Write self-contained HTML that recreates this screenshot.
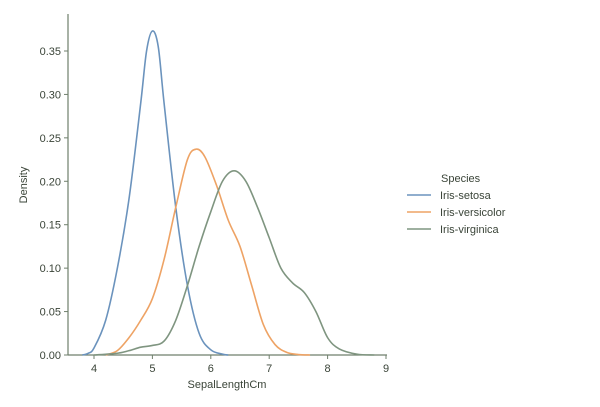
<!DOCTYPE html>
<html><head><meta charset="utf-8"><style>
body{margin:0;background:#fff;}
svg{display:block;font-family:"Liberation Sans",sans-serif;}
text{fill:#3a4438;font-size:11px;}
</style></head><body>
<svg id="chart" width="600" height="407"></svg>
<script>
const setosaX=[3.8,3.9,4.0,4.2,4.4,4.6,4.8,4.9,5.0,5.1,5.2,5.4,5.6,5.8,6.0,6.2,6.3];
const setosaY=[0,0.002,0.008,0.04,0.1,0.18,0.29,0.35,0.373,0.355,0.29,0.17,0.08,0.025,0.006,0.001,0];
const versiX=[4.2,4.4,4.6,4.8,5.0,5.2,5.4,5.6,5.75,5.9,6.1,6.3,6.5,6.7,6.9,7.1,7.3,7.5,7.7];
const versiY=[0,0.005,0.02,0.04,0.065,0.11,0.17,0.225,0.237,0.228,0.195,0.155,0.125,0.08,0.035,0.012,0.003,0.0005,0];
const virgX=[4.0,4.4,4.6,4.8,5.0,5.2,5.4,5.6,5.8,6.0,6.2,6.4,6.6,6.8,7.0,7.2,7.4,7.6,7.8,8.0,8.2,8.5,8.8];
const virgY=[0,0.002,0.005,0.009,0.011,0.016,0.04,0.08,0.125,0.165,0.2,0.212,0.2,0.17,0.135,0.1,0.083,0.072,0.05,0.02,0.007,0.001,0];
const xTicks=[4,5,6,7,8,9];
const yTicks=[0,0.05,0.10,0.15,0.20,0.25,0.30,0.35];
const seriesNames=["Iris-setosa","Iris-versicolor","Iris-virginica"];
const colors=["#6b93bd","#eea365","#7f9580"];

const NS="http://www.w3.org/2000/svg";
const svg=document.getElementById('chart');
const sx=v=>94+(v-4)*58.4;
const sy=v=>355-v*868.6;
function el(t,a,p){const e=document.createElementNS(NS,t);for(const k in a)e.setAttribute(k,a[k]);(p||svg).appendChild(e);return e;}

const ax=el('g',{});


const yl=el('line',{x1:68,y1:14,x2:68,y2:355,stroke:'#6f7f6c','stroke-width':1.2},ax);


const xl=el('line',{x1:68,y1:355,x2:387,y2:355,stroke:'#6f7f6c','stroke-width':1.2},ax);


xTicks.forEach(t=>{
  el('line',{x1:sx(t),x2:sx(t),y1:355,y2:359,stroke:'#6f7f6c'},ax);
  const tx=el('text',{x:sx(t),y:372,'text-anchor':'middle'},ax);tx.textContent=t;
  
  
});
yTicks.forEach(t=>{
  el('line',{x1:64,x2:68,y1:sy(t),y2:sy(t),stroke:'#6f7f6c'},ax);
  const tx=el('text',{x:61,y:sy(t)+4,'text-anchor':'end'},ax);tx.textContent=t.toFixed(2);
  
  
});
const xt=el('text',{x:227,y:388,'text-anchor':'middle'});xt.textContent='SepalLengthCm';


const yt=el('text',{x:0,y:0,'text-anchor':'middle',transform:'translate(27,185) rotate(-90)'});yt.textContent='Density';



[[setosaX,setosaY],[versiX,versiY],[virgX,virgY]].forEach((s,i)=>{
  const pts=s[0].map((x,j)=>[sx(x),sy(s[1][j])]);
  let d='M'+pts[0][0]+','+pts[0][1];
  for(let j=0;j<pts.length-1;j++){
    const p0=pts[Math.max(j-1,0)],p1=pts[j],p2=pts[j+1],p3=pts[Math.min(j+2,pts.length-1)];
    d+=' C'+(p1[0]+(p2[0]-p0[0])/6)+','+(p1[1]+(p2[1]-p0[1])/6)+' '+(p2[0]-(p3[0]-p1[0])/6)+','+(p2[1]-(p3[1]-p1[1])/6)+' '+p2[0]+','+p2[1];
  }
  const p=el('path',{d:d,fill:'none',stroke:colors[i],'stroke-width':1.6});
  
  
});

const lg=el('g',{});


const lt=el('text',{x:441,y:182},lg);lt.textContent='Species';


seriesNames.forEach((n,i)=>{
  const y=195+i*17;
  const g=el('g',{},lg);
  
  
  el('line',{x1:407,x2:431,y1:y,y2:y,stroke:colors[i],'stroke-width':1.6},g);
  const t=el('text',{x:440,y:y+4},g);t.textContent=n;
});
</script>
</body></html>
